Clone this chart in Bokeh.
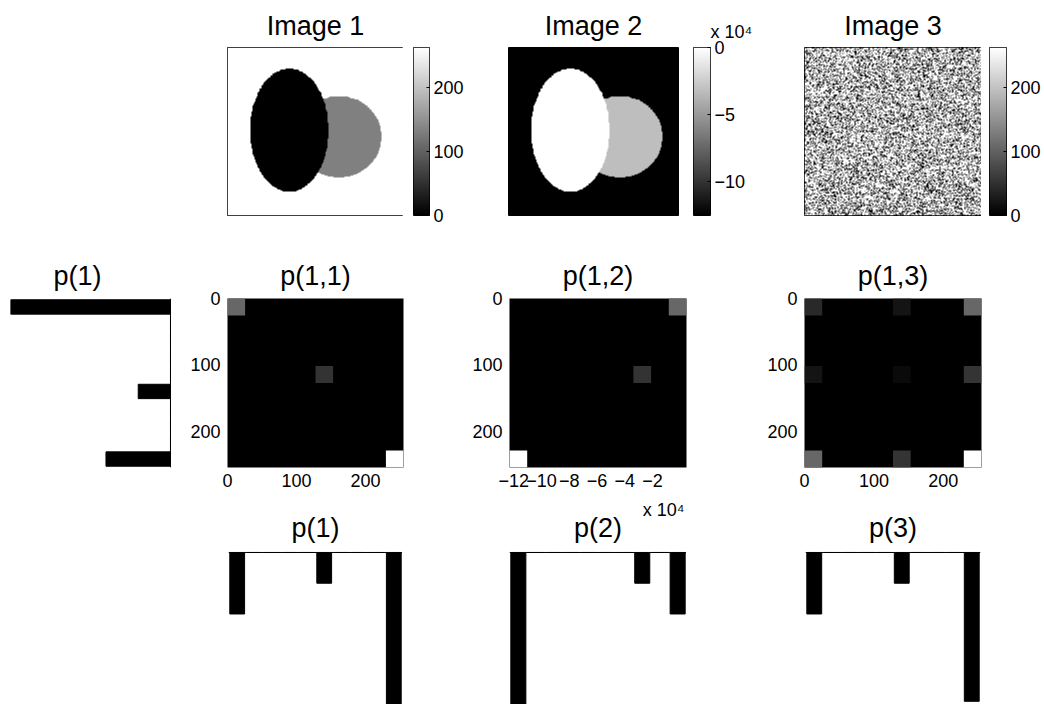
import numpy as np
from bokeh.plotting import figure
from bokeh.models import (LinearColorMapper, LinearAxis, FixedTicker, Range1d,
                          Span, ColumnDataSource, Title)
from bokeh.layouts import row, column
from bokeh.transform import linear_cmap
from bokeh.embed import file_html
from bokeh.resources import INLINE

FONT = "Liberation Sans"

# ---------------- data ----------------
image_size = 256
region_names = ["background", "circle", "ellipse"]
image1_values = [255, 128, 0]
image2_values = [-125000, -32000, 0]
ellipse_center = [90, 126]       # column, row (rows counted from the top)
ellipse_semi_axes = [57, 94]
circle_center = [162, 136]
circle_radius = 62

bins = list(range(1, 11))
p1_values = [0.25, 0, 0, 0, 0, 0.125, 0, 0, 0, 0.62]
p2_values = [0.62, 0, 0, 0, 0, 0, 0, 0.125, 0, 0.25]
p3_values = [0.25, 0, 0, 0, 0, 0.125, 0, 0, 0, 0.605]
p1_left_values = [0.62, 0, 0, 0, 0, 0.125, 0, 0, 0, 0.25]

joint11_rows = [0, 4, 9]
joint11_cols = [0, 5, 9]
joint11_values = [0.25, 0.125, 0.62]
joint12_rows = [0, 4, 9]
joint12_cols = [9, 7, 0]
joint12_values = [0.25, 0.125, 0.62]
joint13_rows = [0, 0, 0, 4, 4, 4, 9, 9, 9]
joint13_cols = [0, 5, 9, 0, 5, 9, 0, 5, 9]
joint13_values = [0.062, 0.031, 0.155, 0.031, 0.016, 0.078, 0.155, 0.078, 0.384]

gray_ticks = [0, 100, 200]
gray_cb_max = 263
img2_cb_ticks = [-100000, -50000, 0]
img2_cb_labels = ["\u221210", "\u22125", "0"]
img2_x_ticks = [-120000, -100000, -80000, -60000, -40000, -20000]
img2_x_labels = ["\u221212", "\u221210", "\u22128", "\u22126", "\u22124", "\u22122"]
img2_x_limits = [-123000, 4500]
exponent_text = "x 10\u2074"

# ---------------- images built from the shapes ----------------
rr, cc = np.mgrid[0:image_size, 0:image_size] + 0.5
in_circle = (cc - circle_center[0]) ** 2 + (rr - circle_center[1]) ** 2 <= circle_radius ** 2
in_ellipse = (((cc - ellipse_center[0]) / ellipse_semi_axes[0]) ** 2 +
              ((rr - ellipse_center[1]) / ellipse_semi_axes[1]) ** 2) <= 1.0


def build(values):
    img = np.full((image_size, image_size), float(values[0]))
    img[in_circle] = values[1]
    img[in_ellipse] = values[2]
    return img


img1 = build(image1_values)
img2 = build(image2_values)
# Image 3: the pixels of Image 1 in a scrambled (deterministic) order
idx = np.arange(img1.size, dtype=np.uint64)
h = (idx * np.uint64(2654435761)) & np.uint64(0xFFFFFFFF)
h ^= h >> np.uint64(16)
h = (h * np.uint64(0x45D9F3B)) & np.uint64(0xFFFFFFFF)
h ^= h >> np.uint64(16)
img3 = img1.ravel()[np.argsort(h, kind="stable")].reshape(img1.shape)

gray = ["#%02x%02x%02x" % (i, i, i) for i in range(256)]


def fig(ml, fw, mr, mt, fh, mb, xr, yr):
    p = figure(width=ml + fw + mr, height=mt + fh + mb, x_range=xr, y_range=yr,
               x_axis_type=None, y_axis_type=None, toolbar_location=None,
               output_backend="svg", title=None,
               min_border_left=ml, min_border_right=mr,
               min_border_top=mt, min_border_bottom=mb)
    p.outline_line_color = None
    p.background_fill_color = "white"
    p.border_fill_color = "white"
    return p


def make_title(text, standoff, align="center", offset=0, size="27px"):
    return Title(text=text, align=align, offset=offset, standoff=standoff,
                 text_font=FONT, text_font_size=size,
                 text_font_style="normal", text_color="black")


def add_axis(p, side, ticks, labels=None, standoff=7, tick_in=0):
    ax = LinearAxis(ticker=FixedTicker(ticks=ticks),
                    major_label_text_font=FONT, major_label_text_font_size="18px",
                    major_label_text_color="black", major_label_standoff=standoff,
                    axis_line_color=None, minor_tick_line_color=None,
                    major_tick_in=tick_in, major_tick_out=0,
                    major_tick_line_color="black" if tick_in else None)
    if labels is not None:
        ax.major_label_overrides = {t: l for t, l in zip(ticks, labels)}
    p.add_layout(ax, side)


# ---------------- row 1: images and colour bars ----------------
TOP_A, FH_A, BOT_A = 47, 168, 25


def image_fig(img, ml, fw, mr, x_end, lo, hi, title):
    p = fig(ml, fw, mr, TOP_A, FH_A, BOT_A, Range1d(0, x_end), Range1d(0, image_size))
    mapper = LinearColorMapper(palette=gray, low=lo, high=hi)
    p.image(image=[np.flipud(img)], x=0, y=0, dw=image_size, dh=image_size, color_mapper=mapper)
    p.outline_line_color = "black"
    p.outline_line_width = 1
    p.add_layout(make_title(title, 14), "above")
    return p


def colorbar_fig(ml, fw, mr, lo, hi, ticks, labels=None):
    p = fig(ml, fw, mr, TOP_A, FH_A, BOT_A, Range1d(0, 1), Range1d(lo, hi))
    mapper = LinearColorMapper(palette=gray, low=lo, high=hi)
    grad = np.linspace(lo, hi, 256).reshape(256, 1)
    p.image(image=[grad], x=0, y=lo, dw=1, dh=hi - lo, color_mapper=mapper)
    p.outline_line_color = "black"
    add_axis(p, "right", ticks, labels, standoff=4, tick_in=3)
    return p


im1 = image_fig(img1, 227, 176, 0, image_size, 0, 255, "Image 1")
cb1 = colorbar_fig(10, 16, 45, 0, gray_cb_max, gray_ticks)
im2 = image_fig(img2, 34, 170, 15, image_size * 170 / 176, image2_values[0], 0, "Image 2")
cb2 = colorbar_fig(0, 17, 45, image2_values[0], 0, img2_cb_ticks, img2_cb_labels)
cb2.add_layout(make_title(exponent_text, 12, align="left", offset=17, size="18px"), "above")
im3 = image_fig(img3, 49, 177, 0, image_size, 0, 255, "Image 3")
cb3 = colorbar_fig(8, 17, 38, 0, gray_cb_max, gray_ticks)

# ---------------- row 2: left marginal and joint histograms ----------------
TOP_B, FH_B, BOT_B = 58, 169, 28

lp1 = fig(10, 162, 0, TOP_B, FH_B, BOT_B,
          Range1d(max(p1_left_values), -0.0078), Range1d(10.5, 0.5))
lp1.hbar(y=bins, left=0, right=p1_left_values, height=0.85, color="black")
lp1.add_layout(Span(location=0, dimension="height", line_color="black", line_width=1))
lp1.add_layout(make_title("p(1)", 15, align="left", offset=43), "above")


def joint_fig(ml, fw, mr, xlim, rows, cols, vals, xticks, xlabels, title):
    p = fig(ml, fw, mr, TOP_B, FH_B, BOT_B, Range1d(xlim[0], xlim[1]), Range1d(255, 0))
    p.background_fill_color = "black"
    bw = (xlim[1] - xlim[0]) / 10.0
    bh = 255 / 10.0
    src = ColumnDataSource(dict(
        left=[xlim[0] + c * bw for c in cols], right=[xlim[0] + (c + 1) * bw for c in cols],
        top=[r * bh for r in rows], bottom=[(r + 1) * bh for r in rows], v=vals))
    p.quad(left="left", right="right", top="top", bottom="bottom", source=src,
           fill_color=linear_cmap("v", gray, 0, max(vals)), line_color=None)
    add_axis(p, "left", gray_ticks, standoff=7)
    add_axis(p, "below", xticks, xlabels, standoff=6)
    p.add_layout(make_title(title, 15), "above")
    return p


j11 = joint_fig(55, 176, 10, [0, 255], joint11_rows, joint11_cols, joint11_values,
                gray_ticks, None, "p(1,1)")
j12 = joint_fig(96, 177, 10, img2_x_limits, joint12_rows, joint12_cols, joint12_values,
                img2_x_ticks, img2_x_labels, "p(1,2)")
j13 = joint_fig(108, 177, 63, [0, 255], joint13_rows, joint13_cols, joint13_values,
                gray_ticks, None, "p(1,3)")

# ---------------- row 3: marginal histograms ----------------
TOP_C, FH_C, BOT_C = 56, 153, 0


def bar_fig(ml, fw, mr, vals):
    p = fig(ml, fw, mr, TOP_C, FH_C, BOT_C, Range1d(0.5, 10.5), Range1d(0.618, -0.004))
    p.vbar(x=bins, bottom=0, top=vals, width=0.85, color="black")
    p.add_layout(Span(location=0, dimension="width", line_color="black", line_width=1))
    return p


b1 = bar_fig(228, 174, 0, p1_values)
b1.add_layout(make_title("p(1)", 17), "above")

b2 = bar_fig(107, 177, 0, p2_values)
b2_top = LinearAxis(ticker=FixedTicker(ticks=[]), axis_label="p(2)",
                    axis_label_standoff=9, axis_label_text_font=FONT,
                    axis_label_text_font_size="27px", axis_label_text_font_style="normal",
                    axis_label_text_color="black", axis_line_color=None,
                    major_tick_out=0, major_tick_in=0, major_label_standoff=0,
                    major_tick_line_color=None, minor_tick_line_color=None)
b2.add_layout(b2_top, "above")
b2.add_layout(make_title(exponent_text, -20, align="right", offset=2, size="18px"), "above")

b3 = bar_fig(119, 175, 64, p3_values)
b3.add_layout(make_title("p(3)", 17), "above")

layout = column(row(im1, cb1, im2, cb2, im3, cb3),
                row(lp1, j11, j12, j13),
                row(b1, b2, b3))

open("out.html", "w").write(file_html(layout, INLINE))
